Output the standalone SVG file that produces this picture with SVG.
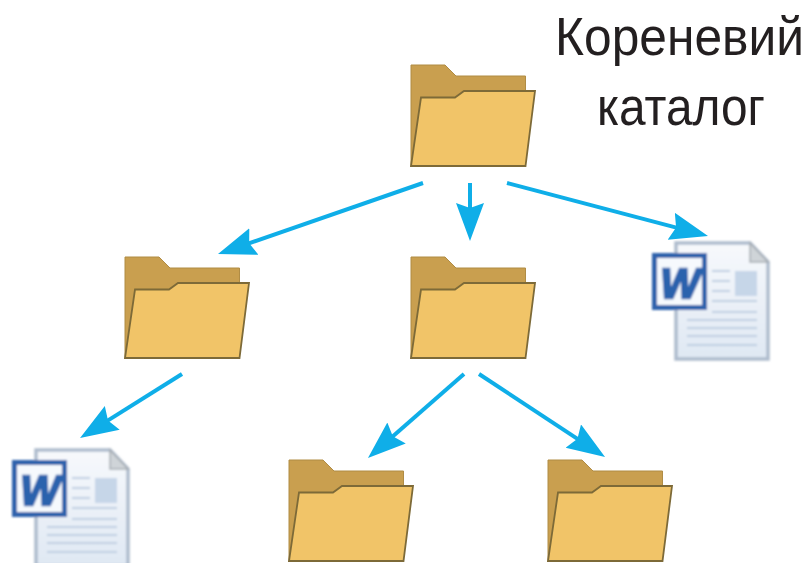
<svg xmlns="http://www.w3.org/2000/svg" width="809" height="563" viewBox="0 0 809 563">
<style>
.label{font-family:"Liberation Sans","Noto Sans",sans-serif;font-size:54px;fill:#231f20;text-anchor:middle}
.conn{fill:none;stroke:#0faee8;stroke-width:4;marker-end:url(#arrow)}
.back{fill:#c99f4f;stroke:#b08c45;stroke-width:1}
.front{fill:#f1c468;stroke:#7d6a38;stroke-width:1.800}
.w{font-family:"Liberation Sans",sans-serif;font-weight:bold;font-style:italic;font-size:42px;fill:#2a62ad;stroke:#2a62ad;stroke-width:2.500;text-anchor:middle}
.soft{filter:url(#soft)}
.softer{filter:url(#softer)}
</style>
<defs>
<filter id="soft" x="-5%" y="-5%" width="110%" height="110%"><feGaussianBlur stdDeviation="0.600"/></filter>
<filter id="softer" x="-5%" y="-5%" width="110%" height="110%"><feGaussianBlur stdDeviation="1"/></filter>
<marker id="arrow" markerUnits="userSpaceOnUse" markerWidth="40" markerHeight="30" refX="20" refY="14" orient="auto">
<path d="M0,0 L38,14 L0,28 L5,14 Z" fill="#0faee8"/>
</marker>
<linearGradient id="page" x1="0" y1="0" x2="0" y2="1">
<stop offset="0" stop-color="#f7f9fc"/><stop offset="1" stop-color="#dfe8f3"/>
</linearGradient>
<g id="folder" class="soft">
<path class="back" d="M0,0 H34 L45,11 H114.500 V30 L110,101 H0 Z"/>
<path class="front" d="M10,32.500 H44 L53,26 H124 L114.500,101 H0 Z"/>
</g>
<g id="doc" class="softer">
<path d="M24,-12 H98 L116,7 V104 H24 Z" fill="url(#page)" stroke="#aebccd" stroke-width="3.500"/>
<path d="M98,-12 L116,7 H98 Z" fill="#cfd4d8" stroke="#a7adb3" stroke-width="1.500"/>
<rect x="83" y="16" width="22" height="25" fill="#c6d6e8"/>
<g stroke="#bfcfe2" stroke-width="2">
<path d="M60,16 H78 M60,26 H78 M60,36 H78 M60,46 H105 M60,57 H105 M35,65 H105 M35,73 H105 M35,81 H105 M35,90 H105"/>
</g>
<rect x="2.500" y="0.500" width="50" height="52" fill="#f6f9fd" stroke="#2f62ac" stroke-width="5"/>
<text class="w" x="28" y="43">W</text>
</g>
</defs>
<g id="connectors">
<path class="conn" d="M423,183 L235,248.100"/>
<path class="conn" d="M470,183 L470,223"/>
<path class="conn" d="M507,183 L690.600,231.400"/>
<path class="conn" d="M182,374 L95.300,428.400"/>
<path class="conn" d="M464,374 L381.500,446.200"/>
<path class="conn" d="M479,374 L590,447.100"/>
</g>
<g id="root-label">
<text class="label" transform="translate(679.500,55) scale(0.920,1)" textLength="270.600" lengthAdjust="spacingAndGlyphs">Кореневий</text>
<text class="label" transform="translate(681,125) scale(0.920,1)" textLength="182.600" lengthAdjust="spacingAndGlyphs">каталог</text>
</g>
<g id="folder-root"><use href="#folder" x="411" y="65"/></g>
<g id="folder-left"><use href="#folder" x="125" y="257"/></g>
<g id="folder-mid"><use href="#folder" x="411" y="257"/></g>
<g id="folder-bottom-left"><use href="#folder" x="289" y="460"/></g>
<g id="folder-bottom-right"><use href="#folder" x="548" y="460"/></g>
<g id="doc-right"><use href="#doc" x="652" y="255"/></g>
<g id="doc-left"><use href="#doc" x="12" y="462"/></g>
</svg>
